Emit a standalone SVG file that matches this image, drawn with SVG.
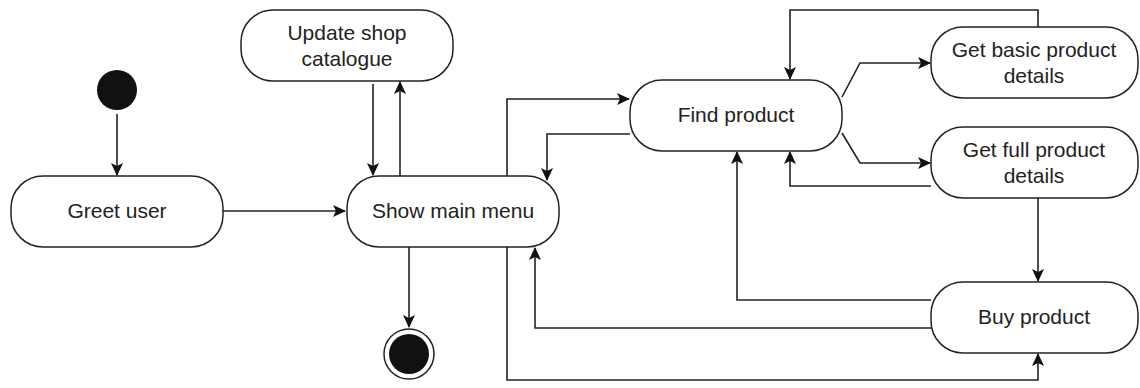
<svg xmlns="http://www.w3.org/2000/svg" width="1140" height="388" viewBox="0 0 1140 388">
<style>
.node rect{fill:#fff;stroke:#222;stroke-width:1.5}
.node text{font-family:"Liberation Sans",Arial,sans-serif;font-size:21px;fill:#222;text-anchor:middle}
.edge{fill:none;stroke:#222;stroke-width:1.6;marker-end:url(#arr)}
</style>
<defs>
<marker id="arr" viewBox="0 0 13 12" refX="12" refY="6" markerWidth="13" markerHeight="12" markerUnits="userSpaceOnUse" orient="auto">
<path d="M0,0 L13,6 L0,12 L3,6 z" fill="#111"/>
</marker>
</defs>
<rect width="1140" height="388" fill="#fff"/>
<g id="connectors">
<path class="edge" d="M117,114 V175"/>
<path class="edge" d="M223,211 H345"/>
<path class="edge" d="M373,84 V175"/>
<path class="edge" d="M400,176 V82"/>
<path class="edge" d="M409,247 V327"/>
<path class="edge" d="M507,176 V99 H629"/>
<path class="edge" d="M630,134 H547 V180"/>
<path class="edge" d="M507,247 V380 H1038 V354"/>
<path class="edge" d="M931,328 H535 V248"/>
<path class="edge" d="M931,300 H737 V152"/>
<path class="edge" d="M931,186 H790 V152"/>
<path class="edge" d="M1038,27 V10 H790 V79"/>
<path class="edge" d="M842,97 L860,63 H930"/>
<path class="edge" d="M842,133 L860,163 H930"/>
<path class="edge" d="M1038,198 V281"/>
</g>
<g id="initial"><circle cx="117" cy="90" r="20" fill="#111"/></g>
<g id="final">
<circle cx="409" cy="354" r="25" fill="#fff" stroke="#222" stroke-width="1.5"/>
<circle cx="409" cy="354" r="20" fill="#111"/>
</g>
<g id="greet" class="node"><rect x="11" y="176" width="212" height="71" rx="32"/><text x="117" y="218">Greet user</text></g>
<g id="show" class="node"><rect x="347" y="176" width="212" height="71" rx="32"/><text x="453" y="218">Show main menu</text></g>
<g id="update" class="node"><rect x="241" y="10" width="212" height="71" rx="32"/><text x="347" y="40">Update shop</text><text x="347" y="66">catalogue</text></g>
<g id="find" class="node"><rect x="630" y="80" width="212" height="71" rx="32"/><text x="736" y="122">Find product</text></g>
<g id="basic" class="node"><rect x="931" y="27" width="207" height="71" rx="32"/><text x="1034" y="57">Get basic product</text><text x="1034" y="83">details</text></g>
<g id="full" class="node"><rect x="931" y="127" width="207" height="71" rx="32"/><text x="1034" y="157">Get full product</text><text x="1034" y="183">details</text></g>
<g id="buy" class="node"><rect x="931" y="282" width="207" height="71" rx="32"/><text x="1034" y="324">Buy product</text></g>
</svg>
